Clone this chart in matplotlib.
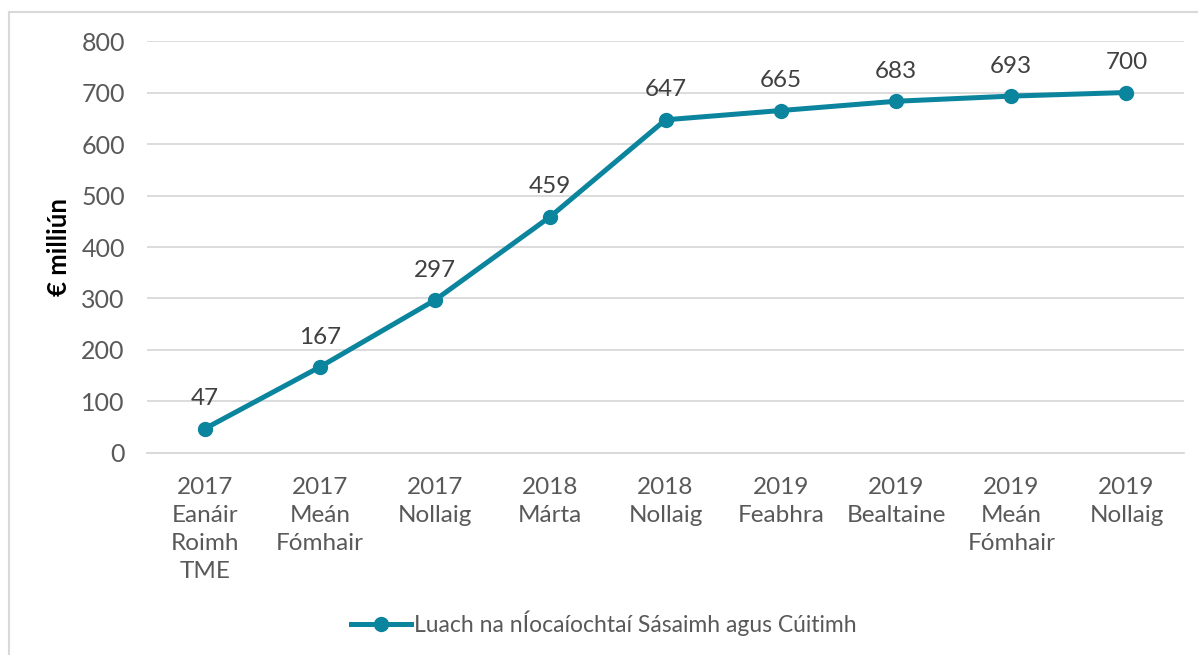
import matplotlib.pyplot as plt
from matplotlib.lines import Line2D

plt.rcParams['font.family'] = ['Lato', 'DejaVu Sans']

categories = ['2017\nEanáir\nRoimh\nTME', '2017\nMeán\nFómhair', '2017\nNollaig',
              '2018\nMárta', '2018\nNollaig', '2019\nFeabhra', '2019\nBealtaine',
              '2019\nMeán\nFómhair', '2019\nNollaig']
values = [47, 167, 297, 459, 647, 665, 683, 693, 700]
series_name = 'Luach na nÍocaíochtaí Sásaimh agus Cúitimh'
y_ticks = [0, 100, 200, 300, 400, 500, 600, 700, 800]

teal = '#0B849E'
grey = '#595959'

fig = plt.figure(figsize=(11.98, 6.55), dpi=100)
ax = fig.add_axes([0.1227, 0.3084, 0.8657, 0.629])

x = list(range(len(values)))
ax.plot(x, values, color=teal, lw=3.6, marker='o', ms=10, zorder=3,
        solid_capstyle='round')
for xi, v in zip(x, values):
    ax.annotate(str(v), (xi, v), xytext=(0, 14), textcoords='offset points',
                ha='center', va='bottom', fontsize=17.5, color='#404040')

ax.set_xlim(-0.5, len(values) - 0.5)
ax.set_ylim(0, 800)
ax.set_yticks(y_ticks)
ax.yaxis.grid(True, color='#D9D9D9', lw=1.3)
ax.set_axisbelow(True)
for s in ['top', 'right', 'left']:
    ax.spines[s].set_visible(False)
ax.spines['bottom'].set_color('#D9D9D9')
ax.spines['bottom'].set_linewidth(1.3)
ax.tick_params(axis='y', length=0, labelsize=18, labelcolor=grey, pad=16)
ax.tick_params(axis='x', length=0, labelsize=17.5, labelcolor=grey, pad=17)
ax.set_xticks(x)
ax.set_xticklabels(categories, linespacing=1.42)
ax.set_ylabel('€ milliún', fontsize=18.5, fontweight='bold', color='black', labelpad=7)

handle = Line2D([0], [0], color=teal, lw=3.6, marker='o', ms=10)
fig.legend([handle], [series_name], loc='center', bbox_to_anchor=(0.504, 0.048),
           frameon=False, fontsize=16.5, labelcolor=grey, handlelength=2.6,
           handletextpad=0.15)

# outer frame (left and top edges visible)
fig.add_artist(Line2D([0.0075, 0.0075], [0, 0.982], color='#D9D9D9', lw=1.5,
                      transform=fig.transFigure))
fig.add_artist(Line2D([0.0075, 1], [0.982, 0.982], color='#D9D9D9', lw=1.5,
                      transform=fig.transFigure))

fig.savefig('out.png', dpi=100)
